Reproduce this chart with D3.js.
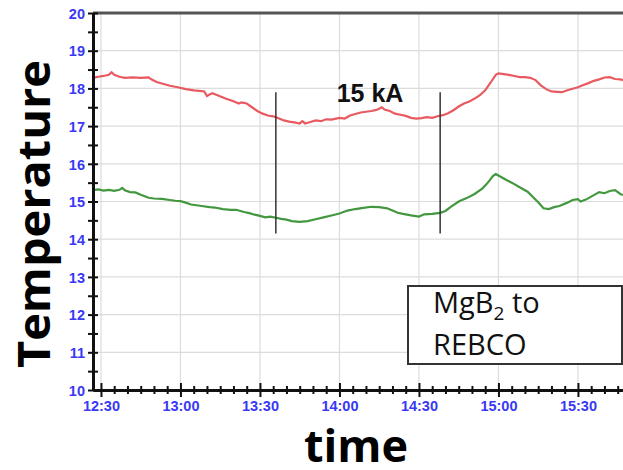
<!DOCTYPE html>
<html lang="en">
<head>
    <meta charset="UTF-8">
    <title>Temperature vs time</title>
    <script src="https://d3js.org/d3.v7.min.js"></script>
    <style>
        body { margin: 0; background: #fff; }
        svg { display: block; }
        .tick-label { font-family: "Liberation Sans", Arial, sans-serif; font-weight: bold; font-size: 14.5px; fill: #3838f5; }
    </style>
</head>
<body>
<svg id="chart" width="623" height="470"></svg>
<script>
    // red trace (upper) and green trace (lower)
    const redTimes = ["12:27","12:29","12:31","12:33","12:34","12:35","12:37","12:39","12:42","12:45","12:48","12:49","12:51","12:53","12:56","12:59","13:02","13:05","13:08","13:09","13:10","13:11","13:12","13:14","13:17","13:20","13:22","13:23","13:25","13:27","13:29","13:31","13:33","13:35","13:37","13:39","13:41","13:43","13:45","13:46","13:47","13:49","13:51","13:53","13:55","13:57","14:00","14:02","14:04","14:06","14:08","14:10","14:12","14:14","14:16","14:17","14:19","14:21","14:23","14:25","14:27","14:29","14:31","14:33","14:35","14:37","14:39","14:41","14:43","14:45","14:47","14:49","14:51","14:53","14:55","14:57","14:59","15:00","15:02","15:04","15:06","15:08","15:10","15:12","15:14","15:16","15:18","15:20","15:22","15:24","15:26","15:28","15:30","15:32","15:34","15:36","15:38","15:40","15:42","15:44","15:46","15:47"];
    const redValues = [18.28,18.31,18.33,18.36,18.43,18.36,18.31,18.28,18.29,18.28,18.29,18.24,18.17,18.13,18.07,18.03,17.98,17.95,17.93,17.92,17.80,17.84,17.87,17.82,17.73,17.66,17.60,17.63,17.60,17.50,17.40,17.33,17.28,17.26,17.21,17.15,17.12,17.10,17.07,17.13,17.07,17.11,17.15,17.13,17.18,17.17,17.22,17.20,17.28,17.32,17.36,17.38,17.40,17.43,17.50,17.44,17.40,17.33,17.30,17.27,17.22,17.20,17.21,17.24,17.22,17.26,17.29,17.34,17.42,17.52,17.60,17.65,17.73,17.82,17.95,18.15,18.36,18.40,18.38,18.36,18.33,18.30,18.30,18.28,18.22,18.08,17.98,17.92,17.91,17.90,17.95,17.99,18.03,18.09,18.14,18.20,18.24,18.29,18.30,18.25,18.24,18.22];

    const greenTimes = ["12:27","12:29","12:31","12:33","12:35","12:37","12:38","12:39","12:41","12:43","12:45","12:48","12:50","12:53","12:56","12:58","13:00","13:02","13:04","13:06","13:08","13:11","13:13","13:16","13:19","13:21","13:24","13:26","13:28","13:30","13:32","13:34","13:36","13:38","13:40","13:42","13:45","13:48","13:51","13:54","13:57","14:00","14:03","14:06","14:09","14:12","14:15","14:18","14:20","14:22","14:24","14:27","14:30","14:32","14:35","14:38","14:40","14:42","14:45","14:48","14:51","14:54","14:56","14:58","14:59","15:01","15:03","15:05","15:08","15:11","15:13","15:15","15:17","15:19","15:21","15:23","15:26","15:28","15:30","15:31","15:33","15:36","15:38","15:40","15:42","15:44","15:46","15:47"];
    const greenValues = [15.30,15.32,15.29,15.31,15.28,15.31,15.36,15.30,15.25,15.24,15.18,15.10,15.08,15.07,15.04,15.02,15.01,14.97,14.92,14.90,14.88,14.85,14.84,14.80,14.78,14.78,14.72,14.69,14.65,14.62,14.58,14.60,14.57,14.54,14.52,14.48,14.46,14.48,14.53,14.58,14.63,14.68,14.76,14.80,14.83,14.86,14.85,14.82,14.76,14.70,14.67,14.63,14.60,14.66,14.67,14.70,14.75,14.86,15.00,15.09,15.20,15.35,15.50,15.68,15.73,15.65,15.57,15.50,15.38,15.26,15.12,14.98,14.82,14.80,14.85,14.88,14.97,15.04,15.06,15.00,15.05,15.17,15.25,15.22,15.28,15.30,15.20,15.17];

    const markerTimes = ["13:36", "14:38"];
    const markerSpan = [17.9, 14.15];
    const timeDomain = ["12:27", "15:47"];
    const tempDomain = [10, 20];
    const xTickLabels = ["12:30","13:00","13:30","14:00","14:30","15:00","15:30"];
    const yTickValues = [10, 11, 12, 13, 14, 15, 16, 17, 18, 19, 20];

    const parse = d3.timeParse("%H:%M");
    const fmt = d3.timeFormat("%H:%M");
    const svg = d3.select("#chart");

    const x = d3.scaleTime().domain(timeDomain.map(parse)).range([93, 623]);
    const y = d3.scaleLinear().domain(tempDomain).range([390, 13]);

    const plotLeft = x.range()[0], plotRight = x.range()[1];
    const plotTop = y(tempDomain[1]), plotBottom = y(tempDomain[0]);

    // grid
    svg.append("g").selectAll("line")
        .data(yTickValues)
        .join("line")
        .attr("x1", plotLeft).attr("x2", plotRight)
        .attr("y1", d => y(d)).attr("y2", d => y(d))
        .attr("stroke", "#dcdcdc").attr("stroke-width", 1.2);
    svg.append("g").selectAll("line")
        .data(xTickLabels)
        .join("line")
        .attr("x1", d => x(parse(d))).attr("x2", d => x(parse(d)))
        .attr("y1", plotTop).attr("y2", plotBottom)
        .attr("stroke", "#dcdcdc").attr("stroke-width", 1.2);

    // top border
    svg.append("line")
        .attr("x1", plotLeft).attr("x2", plotRight)
        .attr("y1", plotTop).attr("y2", plotTop)
        .attr("stroke", "#555").attr("stroke-width", 3);

    // series
    const line = d3.line().x(d => x(d.t)).y(d => y(d.v));
    const red = redTimes.map((t, i) => ({ t: parse(t), v: redValues[i] }));
    const green = greenTimes.map((t, i) => ({ t: parse(t), v: greenValues[i] }));

    svg.append("path").datum(red)
        .attr("d", line).attr("fill", "none")
        .attr("stroke", "#e85a60").attr("stroke-width", 2.2);
    svg.append("path").datum(green)
        .attr("d", line).attr("fill", "none")
        .attr("stroke", "#43973f").attr("stroke-width", 2.2);

    // marker lines for the 15 kA window
    svg.append("g").selectAll("line")
        .data(markerTimes)
        .join("line")
        .attr("x1", d => x(parse(d))).attr("x2", d => x(parse(d)))
        .attr("y1", y(markerSpan[0])).attr("y2", y(markerSpan[1]))
        .attr("stroke", "#333").attr("stroke-width", 1.5);

    svg.append("text")
        .attr("x", 370).attr("y", 102)
        .attr("text-anchor", "middle")
        .style("font-family", "'Liberation Sans', Arial, sans-serif")
        .style("font-weight", "bold")
        .style("font-size", "25px")
        .attr("fill", "#111")
        .text("15 kA");

    // left axis
    const yAxis = d3.axisLeft(y)
        .ticks(20)
        .tickSizeInner(6).tickSizeOuter(0)
        .tickFormat(d => Number.isInteger(d) ? d : "");
    const yg = svg.append("g").attr("transform", `translate(${plotLeft},0)`).call(yAxis);
    yg.select(".domain").attr("stroke", "#111").attr("stroke-width", 3);
    yg.selectAll(".tick line").attr("x1", 5).attr("x2", -5).attr("stroke", "#111").attr("stroke-width", 2);
    yg.selectAll(".tick text").attr("class", "tick-label").attr("x", -8).attr("dy", "0.36em");

    // bottom axis, a tick every 5 minutes
    const minorTicks = d3.timeMinute.every(5).range(x.domain()[0], x.domain()[1]);
    const xAxis = d3.axisBottom(x)
        .tickValues(minorTicks)
        .tickSizeInner(5).tickSizeOuter(0)
        .tickFormat(d => xTickLabels.includes(fmt(d)) ? fmt(d) : "");
    const xg = svg.append("g").attr("transform", `translate(0,${plotBottom})`).call(xAxis);
    xg.select(".domain").attr("stroke", "#111").attr("stroke-width", 3);
    xg.selectAll(".tick line")
        .attr("y1", d => d.getMinutes() % 30 === 0 ? -7 : -4)
        .attr("y2", d => d.getMinutes() % 30 === 0 ? 7 : 4)
        .attr("stroke", "#111").attr("stroke-width", 2);
    xg.selectAll(".tick text").attr("class", "tick-label").attr("y", 11).attr("dy", "0.71em");

    // box with the label
    svg.append("rect")
        .attr("x", 408).attr("y", 286).attr("width", 214).attr("height", 78)
        .attr("fill", "#fff").attr("stroke", "#333").attr("stroke-width", 2);
    const boxText = svg.append("text")
        .attr("x", 433).attr("y", 313)
        .style("font-family", "'Open Sans', sans-serif")
        .style("font-size", "29px")
        .attr("fill", "#111");
    boxText.append("tspan").text("MgB");
    boxText.append("tspan").attr("dy", 7).style("font-size", "19px").text("2");
    boxText.append("tspan").attr("dy", -7).text(" to");
    svg.append("text")
        .attr("x", 433).attr("y", 355)
        .style("font-family", "'Open Sans', sans-serif")
        .style("font-size", "29px")
        .attr("fill", "#111")
        .text("REBCO");

    // axis titles
    svg.append("text")
        .attr("transform", "translate(50,214) rotate(-90)")
        .attr("text-anchor", "middle")
        .attr("textLength", 308).attr("lengthAdjust", "spacingAndGlyphs")
        .style("font-family", "'Open Sans', sans-serif")
        .style("font-weight", "bold")
        .style("font-size", "45px")
        .attr("fill", "#000")
        .text("Temperature");
    svg.append("text")
        .attr("x", 356).attr("y", 462)
        .attr("text-anchor", "middle")
        .style("font-family", "'Open Sans', sans-serif")
        .style("font-weight", "bold")
        .style("font-size", "45px")
        .attr("fill", "#000")
        .text("time");
</script>
</body>
</html>
